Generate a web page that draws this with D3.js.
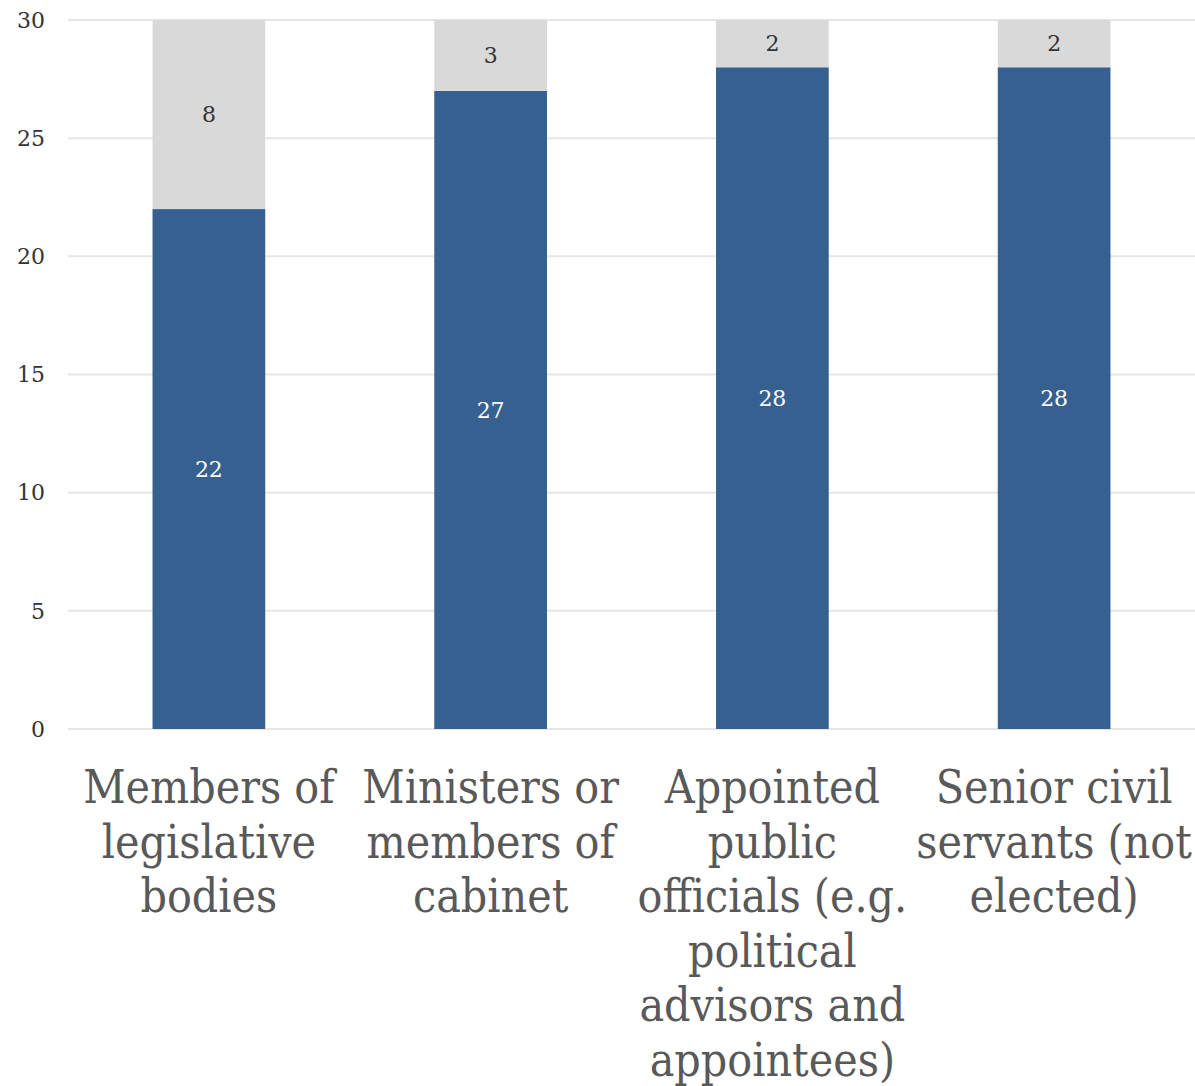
<!DOCTYPE html>
<html>
<head>
<meta charset="utf-8">
<script src="https://cdn.jsdelivr.net/npm/d3@7"></script>
<style>
  body { margin: 0; background: #fff; }
  svg text { font-family: "DejaVu Serif", serif; }
</style>
</head>
<body>
<div id="chart"></div>
<script>
// categories, wrapped as in the picture
var categories = [
    ["Members of", "legislative", "bodies"],
    ["Ministers or", "members of", "cabinet"],
    ["Appointed", "public", "officials (e.g.", "political", "advisors and", "appointees)"],
    ["Senior civil", "servants (not", "elected)"]
];
var yesValues = [22, 27, 28, 28];
var noValues = [8, 3, 2, 2];
var yTicks = [0, 5, 10, 15, 20, 25, 30];

var width = 1195;
var height = 1086;
var plotLeft = 68, plotRight = 1195, plotTop = 20, plotBottom = 729;

var svg = d3.select('#chart')
    .append('svg')
    .attr('width', width)
    .attr('height', height);

var x = d3.scaleBand()
    .domain(d3.range(categories.length))
    .range([plotLeft, plotRight])
    .padding(0);

var y = d3.scaleLinear()
    .domain([0, 30])
    .range([plotBottom, plotTop]);

var barWidth = x.bandwidth() * 0.4;

// gridlines
svg.append('g')
    .selectAll('line')
    .data(yTicks)
    .enter()
    .append('line')
    .attr('x1', plotLeft)
    .attr('x2', plotRight)
    .attr('y1', function (d) { return y(d); })
    .attr('y2', function (d) { return y(d); })
    .attr('stroke', '#e6e6e6')
    .attr('stroke-width', 2);

// tick labels
svg.append('g')
    .selectAll('text')
    .data(yTicks)
    .enter()
    .append('text')
    .attr('x', 45)
    .attr('y', function (d) { return y(d); })
    .attr('dy', '0.35em')
    .attr('text-anchor', 'end')
    .attr('fill', '#333')
    .style('font-size', '22px')
    .text(function (d) { return d; });

var bars = svg.append('g')
    .selectAll('g')
    .data(categories)
    .enter()
    .append('g');

bars.append('rect')
    .attr('x', function (d, i) { return x(i) + x.bandwidth() / 2 - barWidth / 2; })
    .attr('y', function (d, i) { return y(yesValues[i]); })
    .attr('width', barWidth)
    .attr('height', function (d, i) { return y(0) - y(yesValues[i]); })
    .attr('fill', '#36608f');

bars.append('rect')
    .attr('x', function (d, i) { return x(i) + x.bandwidth() / 2 - barWidth / 2; })
    .attr('y', function (d, i) { return y(yesValues[i] + noValues[i]); })
    .attr('width', barWidth)
    .attr('height', function (d, i) { return y(yesValues[i]) - y(yesValues[i] + noValues[i]); })
    .attr('fill', '#d9d9d9');

bars.append('text')
    .attr('x', function (d, i) { return x(i) + x.bandwidth() / 2; })
    .attr('y', function (d, i) { return y(yesValues[i] / 2); })
    .attr('dy', '0.35em')
    .attr('text-anchor', 'middle')
    .attr('fill', '#fff')
    .style('font-size', '22px')
    .text(function (d, i) { return yesValues[i]; });

bars.append('text')
    .attr('x', function (d, i) { return x(i) + x.bandwidth() / 2; })
    .attr('y', function (d, i) { return y(yesValues[i] + noValues[i] / 2); })
    .attr('dy', '0.35em')
    .attr('text-anchor', 'middle')
    .attr('fill', '#333')
    .style('font-size', '22px')
    .text(function (d, i) { return noValues[i]; });

// category labels
var labels = bars.append('text')
    .attr('text-anchor', 'middle')
    .attr('fill', '#595959')
    .style('font-size', '46px')
    .style('font-family', '"DejaVu Serif Condensed", "DejaVu Serif", serif');

labels.selectAll('tspan')
    .data(function (d, i) { return d.map(function (line) { return { line: line, i: i }; }); })
    .enter()
    .append('tspan')
    .attr('x', function (d) { return x(d.i) + x.bandwidth() / 2; })
    .attr('y', function (d, j) { return 803 + j * 54.5; })
    .text(function (d) { return d.line; });
</script>
</body>
</html>
